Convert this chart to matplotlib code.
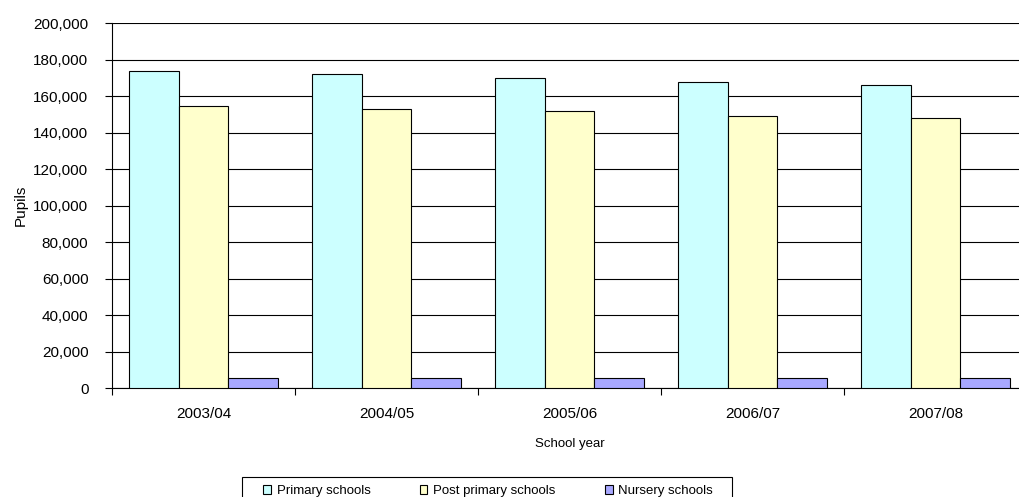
import numpy as np
import matplotlib.pyplot as plt
from matplotlib.patches import Rectangle
from matplotlib.ticker import FuncFormatter

plt.rcParams['font.family'] = ['Liberation Sans', 'DejaVu Sans']

# ── data ──
years = ["2003/04", "2004/05", "2005/06", "2006/07", "2007/08"]
primary = [173800, 171900, 169700, 167800, 166300]
post_primary = [154600, 152700, 151800, 149000, 147900]
nursery = [5700, 5700, 5700, 5700, 5700]

series_names = ["Primary schools", "Post primary schools", "Nursery schools"]
colors = ["#CCFFFF", "#FFFFCC", "#A8A8FF"]

W, H = 1019, 497
fig = plt.figure(figsize=(W / 100, H / 100), dpi=100)
ax = fig.add_axes([0.1099, 0.2193, 0.898, 0.7344])

x = np.arange(len(years))
w = 0.272
for i, (vals, name, col) in enumerate(zip([primary, post_primary, nursery], series_names, colors)):
    ax.bar(x + (i - 1) * w, vals, width=w, color=col, edgecolor="black",
           linewidth=0.8, label=name, zorder=3)

ax.set_xlim(-0.5, len(years) - 0.5)
ax.set_ylim(0, 200000)
ax.set_yticks(np.arange(0, 200001, 20000))
ax.yaxis.set_major_formatter(FuncFormatter(lambda v, p: f"{int(v):,}"))
ax.grid(axis="y", color="black", linewidth=0.8, zorder=0)

# category ticks between groups, labels centred
ax.set_xticks(np.arange(-0.5, len(years), 1.0))
ax.set_xticklabels([])
ax.set_xticks(x, minor=True)
ax.set_xticklabels(years, minor=True)
ax.tick_params(axis="x", which="major", direction="out", length=5, color="black")
ax.tick_params(axis="x", which="minor", length=0, pad=14, labelsize=11)
ax.tick_params(axis="y", direction="out", length=5, labelsize=11, pad=12)

for s in ["top", "right"]:
    ax.spines[s].set_visible(False)
ax.spines["left"].set_color("black")
ax.spines["bottom"].set_color("black")

ax.set_xlabel("School year", fontsize=9.5, labelpad=12)
ax.set_ylabel("Pupils", fontsize=11, labelpad=4)

# legend box (runs off the bottom edge like the original)
fig.patches.append(Rectangle((242 / W, -0.02), (732 - 242) / W, 0.02 + (1 - 477 / H),
                             transform=fig.transFigure, facecolor="white",
                             edgecolor="black", linewidth=0.8))
fig.legend(loc="upper left", bbox_to_anchor=(263 / W, 1 - 485 / H), ncol=3,
           fontsize=9.5, frameon=False,
           handlelength=0.6, handleheight=0.6, columnspacing=3.7, handletextpad=0.45,
           borderpad=0, borderaxespad=0)

plt.savefig("out.png", dpi=100)
